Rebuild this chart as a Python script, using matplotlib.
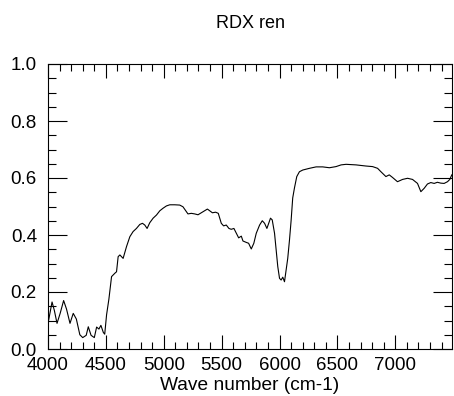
import matplotlib
matplotlib.use('Agg')
import matplotlib.pyplot as plt
from matplotlib.ticker import MultipleLocator

wave = [4000, 4005, 4035, 4055, 4078, 4105, 4135, 4160, 4190, 4218, 4245,
        4275, 4300, 4330, 4348, 4372, 4400, 4420, 4440, 4457, 4478, 4490,
        4506, 4526, 4549, 4578, 4592, 4606, 4621, 4649, 4678, 4707, 4735,
        4764, 4793, 4816, 4836, 4856, 4879, 4908, 4937, 4966, 4994, 5023,
        5052, 5095, 5138, 5166, 5196, 5209, 5238, 5267, 5296, 5325, 5353,
        5377, 5397, 5420, 5448, 5471, 5497, 5517, 5540, 5563, 5583, 5606,
        5627, 5647, 5670, 5684, 5713, 5733, 5756, 5778, 5799, 5828, 5851,
        5871, 5891, 5908, 5922, 5937, 5957, 5971, 5985, 6000, 6014, 6028,
        6043, 6057, 6071, 6086, 6100, 6114, 6129, 6149, 6172, 6201, 6259,
        6316, 6373, 6431, 6488, 6532, 6575, 6661, 6747, 6804, 6847, 6876,
        6919, 6948, 6976, 7019, 7063, 7106, 7149, 7192, 7221, 7250, 7278,
        7307, 7336, 7364, 7393, 7422, 7451, 7471, 7488]
signal = [0.150, 0.100, 0.165, 0.135, 0.090, 0.125, 0.170, 0.140, 0.090, 0.125, 0.105,
          0.050, 0.040, 0.048, 0.078, 0.048, 0.040, 0.077, 0.070, 0.083, 0.058, 0.052,
          0.120, 0.175, 0.254, 0.266, 0.271, 0.324, 0.330, 0.318, 0.359, 0.394, 0.412,
          0.423, 0.437, 0.441, 0.435, 0.423, 0.443, 0.459, 0.470, 0.485, 0.494, 0.502,
          0.506, 0.506, 0.505, 0.499, 0.482, 0.474, 0.476, 0.474, 0.471, 0.478, 0.485,
          0.491, 0.485, 0.478, 0.480, 0.476, 0.441, 0.432, 0.435, 0.423, 0.420, 0.423,
          0.406, 0.390, 0.396, 0.379, 0.374, 0.371, 0.351, 0.371, 0.406, 0.435, 0.450,
          0.441, 0.423, 0.443, 0.459, 0.453, 0.406, 0.347, 0.289, 0.248, 0.242, 0.252,
          0.236, 0.277, 0.318, 0.382, 0.450, 0.530, 0.565, 0.605, 0.622, 0.628, 0.634,
          0.639, 0.639, 0.636, 0.640, 0.646, 0.648, 0.646, 0.642, 0.640, 0.634, 0.622,
          0.605, 0.611, 0.602, 0.587, 0.595, 0.599, 0.595, 0.581, 0.552, 0.564, 0.579,
          0.584, 0.581, 0.585, 0.582, 0.581, 0.587, 0.595, 0.611]

plt.rcParams['font.family'] = ['Liberation Sans', 'DejaVu Sans']
plt.rcParams['font.size'] = 13.5

fig = plt.figure(figsize=(4.54, 3.96), dpi=100)
ax = fig.add_axes([48/454, 1 - 349/396, (452 - 48)/454, (349 - 64)/396])

ax.plot(wave, signal, color='black', lw=0.8)
ax.set_xlim(4000, 7490)
ax.set_ylim(0, 1.0)

ax.xaxis.set_major_locator(MultipleLocator(500))
ax.xaxis.set_minor_locator(MultipleLocator(100))
ax.yaxis.set_major_locator(MultipleLocator(0.2))
ax.yaxis.set_minor_locator(MultipleLocator(0.05))
ax.set_xticks([4000, 4500, 5000, 5500, 6000, 6500, 7000])
ax.set_yticks([0.0, 0.2, 0.4, 0.6, 0.8, 1.0])
ax.set_yticklabels(['0.0', '0.2', '0.4', '0.6', '0.8', '1.0'])

ax.tick_params(which='both', direction='in', top=True, right=True, width=0.8, colors='black')
ax.tick_params(axis='x', which='major', length=10, pad=6)
ax.tick_params(axis='x', which='minor', length=5)
ax.tick_params(axis='y', which='major', length=14, pad=8)
ax.tick_params(axis='y', which='minor', length=6)
for s in ax.spines.values():
    s.set_linewidth(0.8)

ax.set_xlabel('Wave number (cm-1)', fontsize=13.8, labelpad=2)
ax.set_title('RDX ren', fontsize=13, pad=26, x=0.5)

fig.savefig('out.png', dpi=100)
